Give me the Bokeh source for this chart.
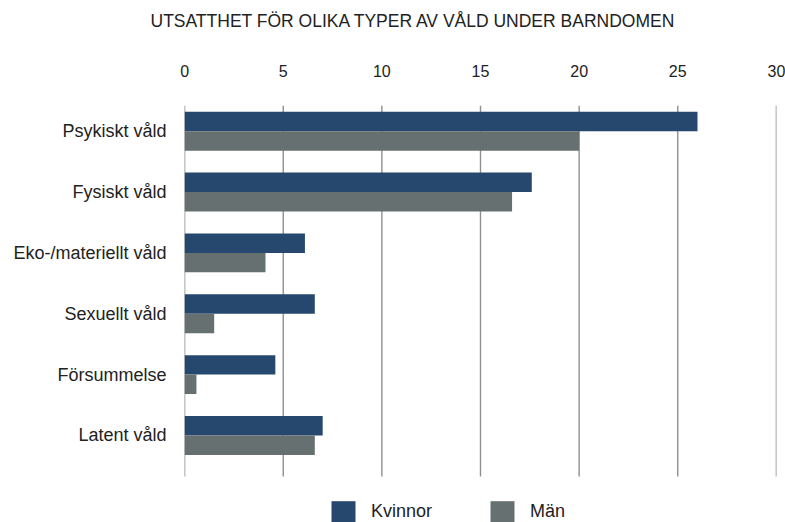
from bokeh.plotting import figure
from bokeh.layouts import column
from bokeh.models import (ColumnDataSource, Range1d, FixedTicker, Legend, LegendItem)
from bokeh.transform import dodge
from bokeh.embed import file_html
from bokeh.resources import INLINE

categories = ["Psykiskt våld", "Fysiskt våld", "Eko-/materiellt våld",
              "Sexuellt våld", "Försummelse", "Latent våld"]
kvinnor = [26.0, 17.6, 6.1, 6.6, 4.6, 7.0]
man = [20.0, 16.6, 4.1, 1.5, 0.6, 6.6]
x_ticks = [0, 5, 10, 15, 20, 25, 30]
series_names = ["Kvinnor", "Män"]
title_text = "UTSATTHET FÖR OLIKA TYPER AV VÅLD UNDER BARNDOMEN"

FONT = "Liberation Sans"
TXT = "#222222"
C_K = "#27486e"
C_M = "#677070"
W = 785

# ---- title strip ----
pt = figure(width=W, height=61, output_backend="svg", toolbar_location=None,
            x_range=Range1d(0, 1), y_range=Range1d(0, 1),
            x_axis_type=None, y_axis_type=None,
            min_border_left=184, min_border_right=9, min_border_top=0,
            min_border_bottom=0)
pt.title.text = title_text
pt.title.text_font = FONT
pt.title.text_font_size = "17.5px"
pt.title.text_font_style = "normal"
pt.title.text_color = TXT
pt.title.align = "left"
pt.title.offset = -34
pt.title.standoff = 16
pt.grid.visible = False
pt.outline_line_color = None

# ---- main chart (its frame also holds the legend strip) ----
src = ColumnDataSource(dict(y=list(range(len(categories))), k=kvinnor, m=man))

y_top, y_axis_end, y_bottom = -0.422, 5.674, 6.43
p = figure(width=W, height=461, output_backend="svg", toolbar_location=None,
           x_range=Range1d(-0.005, 30.005), y_range=Range1d(y_bottom, y_top),
           x_axis_location="above",
           min_border_left=184, min_border_right=9, min_border_top=0,
           min_border_bottom=0)

# vertical grid lines at the tick values, ending at the last category group
grid_src = ColumnDataSource(dict(x=x_ticks, y0=[y_top] * len(x_ticks),
                                 y1=[y_axis_end] * len(x_ticks)))
p.segment(x0="x", y0="y0", x1="x", y1="y1", source=grid_src,
          line_color="#8f8f8f", line_width=1.4)

bh = 0.32
r1 = p.hbar(y=dodge("y", -bh / 2, range=p.y_range), left=0, right="k", height=bh,
            source=src, fill_color=C_K, line_color=None)
r2 = p.hbar(y=dodge("y", bh / 2, range=p.y_range), left=0, right="m", height=bh,
            source=src, fill_color=C_M, line_color=None)

xa = p.xaxis[0]
xa.ticker = FixedTicker(ticks=x_ticks)
xa.axis_line_color = None
xa.major_tick_line_color = None
xa.minor_tick_line_color = None
xa.major_tick_out = 0
xa.major_tick_in = 0
xa.major_label_standoff = 29
xa.major_label_text_font = FONT
xa.major_label_text_font_size = "16px"
xa.major_label_text_color = TXT

ya = p.yaxis[0]
ya.ticker = FixedTicker(ticks=list(range(len(categories))))
ya.major_label_overrides = {i: c for i, c in enumerate(categories)}
ya.axis_line_color = None
ya.major_tick_line_color = None
ya.minor_tick_line_color = None
ya.major_tick_out = 0
ya.major_tick_in = 0
ya.major_label_standoff = 18
ya.major_label_text_font = FONT
ya.major_label_text_font_size = "18px"
ya.major_label_text_color = TXT

p.xgrid.grid_line_color = None
p.ygrid.grid_line_color = None
p.outline_line_color = None
p.background_fill_color = "white"
p.border_fill_color = "white"

legend = Legend(items=[LegendItem(label=series_names[0], renderers=[r1]),
                       LegendItem(label=series_names[1], renderers=[r2])],
                orientation="horizontal", location=(144, -3))
legend.glyph_width = 30
legend.glyph_height = 27
legend.label_standoff = 13
legend.spacing = 55
legend.padding = 0
legend.margin = 0
legend.border_line_color = None
legend.background_fill_alpha = 0
legend.label_text_font = FONT
legend.label_text_font_size = "18px"
legend.label_text_color = TXT
p.add_layout(legend, "center")

layout = column(pt, p, spacing=0)
open("out.html", "w").write(file_html(layout, INLINE))
